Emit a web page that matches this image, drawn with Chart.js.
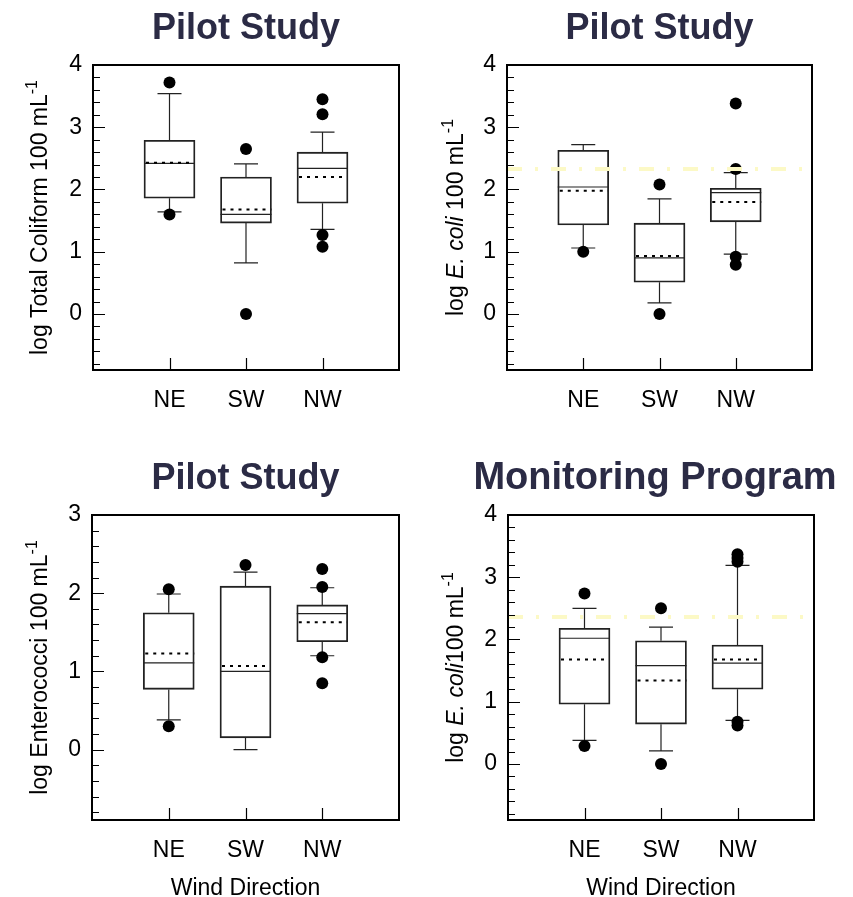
<!DOCTYPE html>
<html>
<head>
<meta charset="utf-8">
<script src="https://cdn.jsdelivr.net/npm/chart.js@4.4.1/dist/chart.umd.min.js"></script>
<style>
html, body { margin: 0; padding: 0; background: #fff; overflow: hidden; width: 853px; height: 897px; }
.panel { position: absolute; }
</style>
</head>
<body>
<div class="panel" style="left:0;top:0;width:427px;height:448px"><canvas id="c1"></canvas></div>
<div class="panel" style="left:427px;top:0;width:426px;height:448px"><canvas id="c2"></canvas></div>
<div class="panel" style="left:0;top:448px;width:427px;height:452px"><canvas id="c3"></canvas></div>
<div class="panel" style="left:427px;top:448px;width:456px;height:452px"><canvas id="c4"></canvas></div>
<script>
// categories (wind direction) and where they sit on the x axis
const categories = ['NE', 'SW', 'NW'];
const catPos = [1, 2, 3];

// y tick labels
const yTicks4 = [0, 1, 2, 3, 4];
const yTicks3 = [0, 1, 2, 3];

// Pilot Study - total coliform
const tcQ1 = [1.86, 1.46, 1.78];
const tcQ3 = [2.79, 2.20, 2.60];
const tcMedian = [2.42, 1.60, 2.34];
const tcMean = [2.43, 1.68, 2.20];
const tcLow = [1.64, 0.82, 1.36];
const tcHigh = [3.54, 2.41, 2.92];
const tcOutliers = [[3.72, 1.60], [2.65, 0.00], [3.45, 3.21, 1.27, 1.08]];

// Pilot Study - E. coli
const ecQ1 = [1.43, 0.51, 1.48];
const ecQ3 = [2.63, 1.46, 2.02];
const ecMedian = [2.04, 0.90, 1.95];
const ecMean = [1.98, 0.93, 1.80];
const ecLow = [1.06, 0.18, 0.96];
const ecHigh = [2.72, 1.85, 2.27];
const ecOutliers = [[1.00], [2.08, 0.00], [3.38, 2.33, 0.92, 0.79]];
const ecLimit = 2.33;

// Pilot Study - enterococci
const entQ1 = [0.77, 0.15, 1.38];
const entQ3 = [1.75, 2.09, 1.85];
const entMedian = [1.11, 1.00, 1.74];
const entMean = [1.23, 1.07, 1.63];
const entLow = [0.38, 0.00, 1.20];
const entHigh = [1.99, 2.27, 2.07];
const entOutliers = [[2.05, 0.30], [2.36], [2.31, 2.08, 1.18, 0.85]];

// Monitoring Program - E. coli
const monQ1 = [0.96, 0.64, 1.20];
const monQ3 = [2.18, 1.98, 1.91];
const monMedian = [2.02, 1.58, 1.62];
const monMean = [1.68, 1.34, 1.68];
const monLow = [0.38, 0.21, 0.70];
const monHigh = [2.50, 2.20, 3.19];
const monOutliers = [[2.74, 0.29], [2.50, 0.00], [3.37, 3.31, 3.25, 0.68, 0.62]];
const monLimit = 2.36;

const FONT = "Arial, Helvetica, sans-serif";
const INK = '#222';

// whiskers, caps, median and mean lines
function boxExtras(st) {
    return {
        id: 'boxExtras',
        beforeDatasetsDraw(chart) {
            const ctx = chart.ctx;
            const xs = chart.scales.x, ys = chart.scales.y;
            ctx.save();
            ctx.strokeStyle = INK;
            catPos.forEach((c, i) => {
                const x = xs.getPixelForValue(c);
                const half = 25.5, cap = 12;
                ctx.lineWidth = 1.2;
                ctx.setLineDash([]);
                ctx.beginPath();
                ctx.moveTo(x, ys.getPixelForValue(st.q3[i]));
                ctx.lineTo(x, ys.getPixelForValue(st.high[i]));
                ctx.moveTo(x - cap, ys.getPixelForValue(st.high[i]));
                ctx.lineTo(x + cap, ys.getPixelForValue(st.high[i]));
                ctx.moveTo(x, ys.getPixelForValue(st.q1[i]));
                ctx.lineTo(x, ys.getPixelForValue(st.low[i]));
                ctx.moveTo(x - cap, ys.getPixelForValue(st.low[i]));
                ctx.lineTo(x + cap, ys.getPixelForValue(st.low[i]));
                ctx.moveTo(x - half, ys.getPixelForValue(st.median[i]));
                ctx.lineTo(x + half, ys.getPixelForValue(st.median[i]));
                ctx.stroke();
                // mean - dotted
                ctx.lineWidth = 2;
                ctx.strokeStyle = '#000';
                ctx.setLineDash([3, 5]);
                ctx.beginPath();
                ctx.moveTo(x - half + 2, ys.getPixelForValue(st.mean[i]));
                ctx.lineTo(x + half, ys.getPixelForValue(st.mean[i]));
                ctx.stroke();
                ctx.strokeStyle = INK;
            });
            ctx.restore();
        }
    };
}

// frame, inside ticks and y axis title with italics / superscript
function frameAndTitle(parts, titleX) {
    return {
        id: 'frameAndTitle',
        afterDraw(chart) {
            const ctx = chart.ctx;
            const a = chart.chartArea;
            const xs = chart.scales.x, ys = chart.scales.y;
            ctx.save();
            ctx.strokeStyle = '#000';
            ctx.lineWidth = 1.2;
            ctx.beginPath();
            for (let k = Math.ceil(ys.min / 0.2); k * 0.2 <= ys.max + 1e-6; k++) {
                const v = k * 0.2;
                const major = Math.abs(v - Math.round(v)) < 1e-6;
                const y = Math.round(ys.getPixelForValue(v)) + 0.5;
                ctx.moveTo(a.left, y);
                ctx.lineTo(a.left + (major ? 12 : 7), y);
            }
            catPos.forEach(c => {
                const x = Math.round(xs.getPixelForValue(c)) + 0.5;
                ctx.moveTo(x, a.bottom);
                ctx.lineTo(x, a.bottom - 12);
            });
            ctx.stroke();
            ctx.lineWidth = 2;
            ctx.strokeRect(a.left, a.top, a.right - a.left, a.bottom - a.top);

            // y axis title
            const size = 23;
            const fontFor = p => (p.i ? 'italic ' : '') + (p.sup ? 16 : size) + 'px ' + FONT;
            let total = 0;
            parts.forEach(p => { ctx.font = fontFor(p); total += ctx.measureText(p.t).width; });
            ctx.translate(titleX, (a.top + a.bottom) / 2);
            ctx.rotate(-Math.PI / 2);
            ctx.fillStyle = '#000';
            ctx.textBaseline = 'alphabetic';
            ctx.textAlign = 'left';
            let pos = -total / 2;
            parts.forEach(p => {
                ctx.font = fontFor(p);
                ctx.fillText(p.t, pos, p.sup ? -10 : 0);
                pos += ctx.measureText(p.t).width;
            });
            ctx.restore();
        }
    };
}

function makeChart(id, o) {
    const boxes = catPos.map((c, i) => ({ x: c, y: [o.q1[i], o.q3[i]] }));
    const pts = [];
    o.outliers.forEach((list, i) => list.forEach(v => pts.push({ x: catPos[i], y: v })));
    const datasets = [
        {
            type: 'bar',
            data: boxes,
            backgroundColor: 'rgba(0,0,0,0)',
            borderColor: INK,
            borderWidth: 1.2,
            borderSkipped: false,
            barThickness: 51,
            order: 3
        },
        {
            type: 'scatter',
            data: pts,
            pointRadius: 6,
            pointHoverRadius: 6,
            backgroundColor: '#000',
            borderWidth: 0,
            order: 2
        }
    ];
    if (o.limit !== undefined) {
        datasets.push({
            type: 'line',
            data: [{ x: 0, y: o.limit }, { x: 4, y: o.limit }],
            borderColor: '#fcf9c6',
            borderWidth: 4,
            borderDash: [15, 13, 3, 13],
            pointRadius: 0,
            order: 0
        });
    }
    const scales = {
        x: {
            type: 'linear',
            min: 0,
            max: 4,
            offset: false,
            grid: { display: false },
            border: { display: false },
            afterBuildTicks: s => { s.ticks = catPos.map(v => ({ value: v })); },
            afterFit: s => { s.height = o.xHeight; },
            ticks: {
                padding: 9,
                color: '#000',
                font: { family: FONT, size: 23 },
                callback: v => categories[catPos.indexOf(v)]
            },
            title: {
                display: !!o.xTitle,
                text: o.xTitle || '',
                color: '#000',
                font: { family: FONT, size: 23, lineHeight: 1 },
                padding: 0
            }
        },
        y: {
            min: -0.9,
            max: o.yMax,
            grid: { display: false, drawTicks: false },
            border: { display: false },
            afterBuildTicks: s => { s.ticks = o.yTicks.map(v => ({ value: v })); },
            afterFit: s => { s.width = o.yWidth; },
            ticks: {
                padding: 11,
                color: '#000',
                font: { family: FONT, size: 23 }
            }
        }
    };
    // empty right-hand space so a wide title is not squeezed
    if (o.rightSpace) {
        scales.yRight = {
            position: 'right',
            grid: { display: false },
            border: { display: false },
            ticks: { display: false },
            afterFit: s => { s.width = o.rightSpace; }
        };
    }
    return new Chart(document.getElementById(id), {
        type: 'bar',
        data: { datasets: datasets },
        options: {
            responsive: true,
            maintainAspectRatio: false,
            animation: false,
            layout: { padding: { left: 0, right: o.padRight, top: 0, bottom: 0 } },
            plugins: {
                legend: { display: false },
                tooltip: { enabled: false },
                title: {
                    display: true,
                    text: o.title,
                    fullSize: !!o.rightSpace,
                    color: '#2b2b45',
                    font: { family: FONT, size: o.titleSize, weight: 'bold', lineHeight: 1 },
                    padding: { top: o.titleTop, bottom: o.titleBottom }
                }
            },
            scales: scales
        },
        plugins: [boxExtras(o), frameAndTitle(o.yTitle, o.yTitleX)]
    });
}

makeChart('c1', {
    title: 'Pilot Study', titleSize: 36, titleTop: 11, titleBottom: 18, padRight: 28, yWidth: 93, xHeight: 78,
    yMax: 4, yTicks: yTicks4, yTitleX: 47,
    yTitle: [{ t: 'log Total Coliform 100 mL' }, { t: '-1', sup: true }],
    q1: tcQ1, q3: tcQ3, median: tcMedian, mean: tcMean, low: tcLow, high: tcHigh, outliers: tcOutliers
});
makeChart('c2', {
    title: 'Pilot Study', titleSize: 36, titleTop: 11, titleBottom: 18, padRight: 41, yWidth: 80, xHeight: 78,
    yMax: 4, yTicks: yTicks4, yTitleX: 36,
    yTitle: [{ t: 'log ' }, { t: 'E. coli', i: true }, { t: ' 100 mL' }, { t: '-1', sup: true }],
    q1: ecQ1, q3: ecQ3, median: ecMedian, mean: ecMean, low: ecLow, high: ecHigh, outliers: ecOutliers,
    limit: ecLimit
});
makeChart('c3', {
    title: 'Pilot Study', titleSize: 36, titleTop: 13, titleBottom: 18, padRight: 28, yWidth: 92, xHeight: 80,
    yMax: 3, yTicks: yTicks3, yTitleX: 47, xTitle: 'Wind Direction',
    yTitle: [{ t: 'log Enterococci 100 mL' }, { t: '-1', sup: true }],
    q1: entQ1, q3: entQ3, median: entMedian, mean: entMean, low: entLow, high: entHigh, outliers: entOutliers
});
makeChart('c4', {
    title: 'Monitoring Program', titleSize: 38, titleTop: 12, titleBottom: 17, padRight: 0, rightSpace: 69,
    yWidth: 81, xHeight: 80,
    yMax: 4, yTicks: yTicks4, yTitleX: 36, xTitle: 'Wind Direction',
    yTitle: [{ t: 'log ' }, { t: 'E. coli', i: true }, { t: '100 mL' }, { t: '-1', sup: true }],
    q1: monQ1, q3: monQ3, median: monMedian, mean: monMean, low: monLow, high: monHigh, outliers: monOutliers,
    limit: monLimit
});
</script>
</body>
</html>
